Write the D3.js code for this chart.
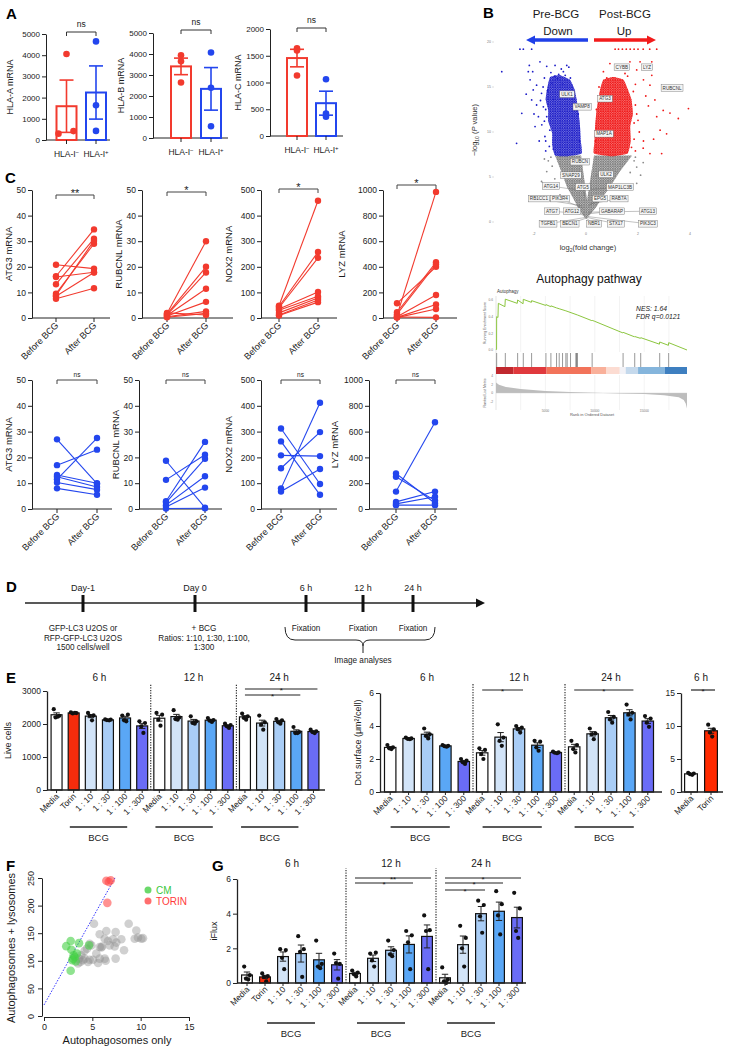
<!DOCTYPE html>
<html><head><meta charset="utf-8">
<script src="https://cdn.jsdelivr.net/npm/d3@7"></script>
<style>body{margin:0;background:#fff}svg{display:block}</style>
</head><body><svg id="fig" width="734" height="1053"></svg>
<script>
// ================= DATA =================
// Panel A
const hlaGroupBase = "HLA-I";
const hlaGroupSup = ["\u2212", "+"];
const hlaGenes = ["HLA-A mRNA", "HLA-B mRNA", "HLA-C mRNA"];
const hlaNeg = [[4060, 300, 420], [3940, 3650, 2640], [1640, 1600, 1130]];
const hlaPos = [[4650, 1640, 430], [4070, 2390, 560], [1060, 420, 360]];
const hlaMax = [5000, 5000, 2000];
const hlaStep = [1000, 1000, 500];
const hlaSig = ["ns", "ns", "ns"];

// Panel B volcano (log2 fold change, -log10 P)
const volcanoDownArea = [[-1.38,16.1],[-1.0,16.3],[-0.62,15.8],[-0.45,14.8],[-0.36,13.6],[-0.28,12.0],[-0.23,10.6],[-0.2,9.0],[-0.17,7.6],[-0.7,7.3],[-1.19,7.4],[-1.3,8.6],[-1.3,9.9],[-1.45,11.2],[-1.45,12.4],[-1.55,13.6],[-1.5,14.7]];
const volcanoUpArea = [[0.31,7.6],[0.33,9.0],[0.35,10.6],[0.4,12.2],[0.47,13.6],[0.55,14.8],[0.67,15.8],[1.05,16.1],[1.44,15.8],[1.6,14.8],[1.75,13.6],[1.8,12.0],[1.7,10.6],[1.72,9.0],[1.6,7.6],[1.0,7.3]];
const volcanoNSArea = [[-1.19,7.4],[-0.95,5.6],[-0.73,3.9],[-0.5,2.7],[-0.31,1.6],[0,0.3],[0.38,1.6],[0.62,2.7],[0.92,3.9],[1.3,5.6],[1.77,7.4],[0.31,7.4],[0.04,2.4],[-0.19,7.4]];
const volcanoDownPts = [[-3.24,16.7],[-2.67,8.74],[-2.47,12.07],[-2.22,16.7],[-2.09,13.56],[-2.03,14.67],[-1.9,15.2],[-1.77,17.8],[-1.71,14.3],[-1.64,12.8],[-1.51,11.7],[-1.39,10.2],[-1.32,15.4],[-2.15,15.8],[-2.18,17.4],[-2.05,16.7],[-1.51,17.3],[-1.19,17.4],[-0.74,17.4],[-0.66,17.2],[-0.87,16.7],[-1.05,16.4],[-1.26,13.6],[-1.48,14.6],[-1.58,9.5],[-1.41,8.4],[-1.26,8.1],[-1.83,11.7],[-1.96,10.6],[-2.54,19.2],[-2.41,19.2],[-2.09,19.2],[-1.6,16.0],[-1.9,13.0],[-1.7,10.8],[-1.55,12.5],[-1.1,15.9],[-0.9,15.3],[-0.6,16.0],[-2.3,14.2],[-1.8,9.0],[-1.55,7.9],[-2.0,12.0],[-1.35,16.6],[-0.95,17.0],[-1.65,15.0],[-1.75,13.5],[-1.6,11.2],[-1.55,9.0],[-1.2,16.2],[-0.8,16.3],[-0.45,14.5],[-0.3,12.0],[-0.25,9.0]];
const volcanoUpPts = [[0.67,16.7],[0.92,17.6],[1.69,17.8],[2.08,17.8],[2.53,17.8],[2.53,16.3],[1.95,16.9],[2.21,15.8],[2.46,15.2],[2.65,13.56],[2.97,12.4],[3.23,12.1],[3.94,12.6],[3.55,11.5],[2.85,10.2],[2.46,7.6],[2.91,7.6],[2.21,9.0],[2.0,11.3],[2.72,11.7],[2.4,12.9],[1.82,14.5],[1.5,16.5],[1.2,17.0],[0.8,16.0],[1.12,19.2],[1.25,19.2],[1.4,19.2],[1.55,19.2],[1.7,19.2],[1.85,19.2],[2.0,19.2],[2.2,19.2],[2.45,19.2],[2.72,19.2],[1.9,13.0],[2.2,8.2],[2.05,10.0],[1.9,7.9],[2.3,14.0],[1.85,9.2],[3.1,9.8],[2.6,9.2],[1.6,16.2],[1.9,15.3],[1.95,12.0],[1.85,11.0],[0.5,15.0],[0.4,12.5],[0.36,9.0],[1.75,8.3]];
const volcanoNSPts = [[-1.51,5.6],[-1.71,4.5],[-1.3,6.2],[1.95,6.1],[1.54,4.0],[1.95,4.3],[1.7,5.5],[1.85,6.8],[-1.45,6.8],[-1.6,7.0],[2.1,5.2],[1.3,2.8],[-1.0,3.0],[-1.2,4.8],[2.2,6.6],[-1.35,7.2],[1.9,7.2],[1.2,5.6],[-0.95,5.3]];
const volcanoGenes = ["CYBB","LYZ","RUBCNL","ATG3","ULK1","VAMP8","MAP1A","RUBCN","SNAP29","ULK2","ATG14","ATG5","MAP1LC3B","RB1CC1","PIK3R4","EPG5","RAB7A","ATG7","ATG12","GABARAP","ATG13","TGFB1","BECN1","NBR1","STX17","PIK3C3"];
const volcanoGeneFC = [1.3,2.2,2.9,0.75,-0.7,-0.2,0.7,0.0,-0.25,0.35,-0.2,-0.05,0.2,-0.15,-0.1,0.1,0.15,-0.08,-0.05,0.08,0.12,-0.04,-0.02,0.02,0.05,0.07];
const volcanoGeneP = [17.2,17.2,15.0,13.7,14.2,12.8,9.8,6.8,5.5,5.2,3.5,2.8,3.6,1.8,1.5,1.8,2.0,0.9,0.7,0.9,1.1,0.5,0.4,0.4,0.5,0.6];
const volcanoLabelFC = [1.38,2.35,3.31,0.73,-0.73,-0.15,0.69,-0.23,-0.58,0.77,-1.35,-0.12,1.31,-1.81,-1.0,0.54,1.27,-1.31,-0.54,1.0,2.38,-1.46,-0.62,0.31,1.15,2.38];
const volcanoLabelP = [17.2,17.2,14.9,13.7,14.2,12.8,9.8,6.7,5.2,5.3,4.0,3.9,3.9,2.6,2.6,2.6,2.6,1.2,1.2,1.2,1.2,-0.2,-0.2,-0.2,-0.2,-0.2];

// Panel B GSEA
const gseaRank = [0,60,67,200,236,900,943,2150,2189,2740,2761,3580,3603,5030,5051,5540,5556,6128,6397,7071,8249,9700,9731,10000,12840,12862,14020,14040,14620,14646,16540,16566,17450,17475,19330];
const gseaES = [0,0.01,0.40,0.39,0.56,0.52,0.61,0.56,0.60,0.555,0.608,0.572,0.592,0.535,0.545,0.52,0.53,0.505,0.495,0.47,0.42,0.352,0.356,0.344,0.205,0.212,0.158,0.162,0.14,0.148,0.07,0.096,0.056,0.088,0.0];
const gseaHits = [67,943,2189,2761,3603,5051,5556,6128,6397,6734,7071,7205,7542,8081,8148,8249,9731,12862,14040,14646,16566,17475];
const gseaMetricRank = [0,300,1000,2500,5000,7500,10000,12500,15000,17000,18500,19000,19200,19330];
const gseaMetric = [2.4,1.9,1.4,0.9,0.45,0.25,0.05,-0.1,-0.25,-0.5,-1.0,-1.6,-2.4,-3.6];
const gseaBandStart = [0,1751,5118,9663,11178,12525,13131,14377,17071];
const gseaBandEnd = [1751,5118,9663,11178,12525,13131,14377,17071,19330];
const gseaBandColor = ["#c0282e","#e0393d","#f2735a","#f9b09a","#fcdcd2","#f2f2f7","#c5d9ec","#85b5dc","#3e7fc0"];

// Panel C
const cGenes = ["ATG3 mRNA","RUBCNL mRNA","NOX2 mRNA","LYZ mRNA"];
const cMax = [50, 50, 500, 1000];
const cStep = [10, 10, 100, 200];
const cTimes = ["Before BCG", "After BCG"];
const atg3BeforeUp = [20.8,16.3,16.0,13.2,9.5,8.8,8.5,7.5];
const atg3AfterUp = [19.3,34.6,17.9,31.0,29.0,30.2,17.8,11.6];
const rubcnlBeforeUp = [1.8,1.5,1.2,1.0,0.8,0.5,0.3,2.0];
const rubcnlAfterUp = [30.0,20.0,17.8,11.4,6.3,2.6,1.8,1.2];
const nox2BeforeUp = [48,45,40,35,30,20,12,10];
const nox2AfterUp = [458,258,235,102,85,78,70,62];
const lyzBeforeUp = [20,115,45,30,10,5,3,8];
const lyzAfterUp = [985,400,435,420,180,105,70,5];
const cSigUp = ["**","*","*","*"];
const atg3BeforeNs = [27,17,11.5,13.2,12.5,10.3,8];
const atg3AfterNs = [9.8,23,27.5,10,8.5,7.5,5.5];
const rubcnlBeforeNs = [18.7,11.3,3.0,2.5,1.5,0.8,0.2];
const rubcnlAfterNs = [0.5,21,26,19.5,12.7,8.3,0.3];
const nox2BeforeNs = [312,262,208,158,80,68];
const nox2AfterNs = [97,55,205,298,412,155];
const lyzBeforeNs = [135,275,250,55,40,30];
const lyzAfterNs = [672,45,65,135,95,30];
const cSigNs = ["ns","ns","ns","ns"];

// Panel D
const timelineEvents = ["Day-1","Day 0","6 h","12 h","24 h"];
const timelineNotes = [["GFP-LC3 U2OS or","RFP-GFP-LC3 U2OS","1500 cells/well"],["+ BCG","Ratios: 1:10, 1:30, 1:100,","1:300"],["Fixation"],["Fixation"],["Fixation"]];
const timelineOutput = "Image analyses";

// Panel E / G categories
const timeGroups = ["6 h","12 h","24 h"];
const conds16 = ["Media","Torin","1 : 10","1 : 30","1 : 100","1 : 300","Media","1 : 10","1 : 30","1 : 100","1 : 300","Media","1 : 10","1 : 30","1 : 100","1 : 300"];
const conds15 = ["Media","1 : 10","1 : 30","1 : 100","1 : 300","Media","1 : 10","1 : 30","1 : 100","1 : 300","Media","1 : 10","1 : 30","1 : 100","1 : 300"];
const condsTorin = ["Media","Torin"];
const liveCells = [[2450,2250,2200,2220],[2350,2330,2320,2340],[2335,2260,2250,2110],[2140,2130,2120,2110],[2254,2284,2112,2081],[2080,2030,1930,1730],
  [2335,2284,2132,1950],[2420,2200,2150,2130],[2233,2081,2030,2010],[2180,2120,2100,2060],[2010,1970,1930,1880],
  [2315,2233,2183,2132],[2254,2050,1980,1827],[2152,2112,2050,2010],[1909,1756,1726,1726],[1827,1777,1756,1726]];
const dotSurface = [[2.85,2.7,2.65,2.6],[3.3,3.25,3.22,3.2],[3.85,3.5,3.4,3.25],[2.85,2.8,2.78,2.75],[2.0,1.9,1.8,1.7],
  [2.65,2.55,2.3,2.0],[4.1,3.3,3.1,2.8],[4.0,3.9,3.8,3.6],[3.1,3.05,2.7,2.5],[2.45,2.4,2.38,2.35],
  [3.1,2.85,2.6,2.4],[3.85,3.55,3.5,3.2],[4.85,4.55,4.4,4.2],[5.3,4.8,4.7,4.4],[4.6,4.45,4.2,3.95]];
const dotSurfaceTorin = [[2.9,2.8,2.7,2.6],[10.2,9.5,9.0,8.4]];
const iFlux = [[0.95,0.45,0.25,0.2],[0.55,0.4,0.35,0.1],[1.95,1.9,1.45,0.8],[2.7,1.95,1.8,0.35],[2.45,1.1,0.95,0.85],[1.7,1.1,1.15,0.25],
  [0.72,0.6,0.5,0.38],[1.7,1.75,1.3,0.95],[2.45,1.9,1.65,1.55],[3.0,2.75,2.35,0.8],[3.9,3.05,3.0,0.8],
  [0.9,0.2,0.1,0.0],[3.3,2.6,2.0,0.95],[4.75,4.5,3.85,2.9],[5.3,4.55,3.9,2.8],[5.2,4.3,3.0,2.6]];
const liveSig = [[11,15,"*"],[11,14,"*"]];
const dotSig = [[5,7,"*"],[10,13,"*"]];
const torinSig = [[0,1,"*"]];
const fluxSig = [[6,10,"**"],[6,9,"*"],[11,15,"*"],[11,14,"*"],[11,13,"*"]];

// Panel F
const fCM = [[2.3,126.5],[2.76,136],[2.83,120],[3.17,107],[3.28,99],[3.0,104],[2.76,82],[3.62,132],[3.41,113],[4.66,128],[3.07,110],[2.93,101]];
const fTorin = [[6.55,205],[6.45,245],[6.7,243],[6.9,246]];
const fOther = [[5.17,167],[8.76,167],[5.76,148],[6.45,154],[7.41,152],[6.28,140],[6.62,136],[7.14,139],[8.0,139],[9.55,155],[9.72,142],[10.07,140],[10.24,141],[9.38,140],[5.76,125],[5.93,124],[6.79,128],[7.31,126],[7.48,133],[8.28,119],[4.2,118],[4.45,122],[4.9,128],[5.41,113],[3.86,110],[3.62,104],[4.03,101],[4.55,98],[5.07,102],[5.76,104],[6.28,104],[5.59,96],[3.52,95],[7.41,104],[6.38,100],[3.76,98],[4.72,102],[4.72,131],[6.0,126],[4.2,104]];
const fLineX = [0, 7.4];
const fLineY = [20, 252];
const fLegend = ["CM", "TORIN"];

// ================= DRAWING =================
const FONT = '"Liberation Sans", Arial, Helvetica, sans-serif';
const RED = "#f23a2e", BLUE = "#2346ee";
const condColor = {"Media":"#ffffff","Torin":"#f52c0c","1 : 10":"#d2e4f8","1 : 30":"#a9cdf6","1 : 100":"#5aa7f6","1 : 300":"#6a6cf6"};
const fmt = d3.format("d");
const svg = d3.select("#fig");
svg.append("rect").attr("width",734).attr("height",1053).attr("fill","#fff");
const defs = svg.append("defs");
[["pBlue", "#1c1cc8"], ["pRed", "#f01818"], ["pGrey", "#7d7d7d"]].forEach(([id, col]) => {
  const p = defs.append("pattern").attr("id", id).attr("width", 2.4).attr("height", 2.4).attr("patternUnits", "userSpaceOnUse");
  p.append("circle").attr("cx", 0.8).attr("cy", 0.8).attr("r", 0.95).attr("fill", col);
  p.append("circle").attr("cx", 2.0).attr("cy", 2.0).attr("r", 0.75).attr("fill", col);
});

function T(g, x, y, s, o = {}) {
  const t = g.append("text").attr("x", x).attr("y", y).text(s)
    .attr("font-size", o.size || 9).attr("text-anchor", o.anchor || "middle")
    .attr("fill", o.fill || "#1a1a1a").style("font-family", FONT);
  if (o.weight) t.attr("font-weight", o.weight);
  if (o.italic) t.attr("font-style", "italic");
  if (o.rot) t.attr("transform", `rotate(${o.rot},${x},${y})`);
  return t;
}
function L(g, x1, y1, x2, y2, o = {}) {
  return g.append("line").attr("x1",x1).attr("y1",y1).attr("x2",x2).attr("y2",y2)
    .attr("stroke", o.stroke || "#222").attr("stroke-width", o.w || 1)
    .attr("stroke-dasharray", o.dash || null);
}
function styleAxis(sel, size, col) {
  col = col || "#222";
  sel.selectAll("text").style("font-family", FONT).attr("font-size", size).attr("fill", col);
  sel.selectAll("line").attr("stroke", col);
  sel.select(".domain").attr("stroke", col);
}
const letter = (x, y, s) => T(svg, x, y, s, {size: 15, weight: "bold", anchor: "start", fill: "#000"});
letter(6, 19, "A"); letter(483, 18, "B"); letter(5, 183, "C"); letter(6, 592, "D");
letter(6, 683, "E"); letter(6, 871, "F"); letter(212, 871, "G");

// ---------- Panel A ----------
const hlaLayout = [
  {ax: 46, xEnd: 110, c: [66.5, 96], top: 34, bot: 140, jit: [[0,-8,7],[0,0,0]], lx: 13, br: 32},
  {ax: 153, xEnd: 228, c: [181, 211], top: 33, bot: 138, jit: [[0,0,0],[0,0,0]], lx: 124, br: 30},
  {ax: 270, xEnd: 343, c: [297, 326], top: 29, bot: 136, jit: [[0,0,0],[0,0,0]], lx: 241, br: 28}
];
hlaLayout.forEach((c, k) => {
  const g = svg.append("g");
  const y = d3.scaleLinear().domain([0, hlaMax[k]]).range([c.bot, c.top]);
  g.append("g").attr("transform", `translate(${c.ax},0)`)
    .call(d3.axisLeft(y).tickValues(d3.range(0, hlaMax[k] + 1, hlaStep[k])).tickFormat(fmt).tickSize(4).tickPadding(2).tickSizeOuter(0))
    .call(s => styleAxis(s, 8));
  L(g, c.ax, c.bot, c.xEnd, c.bot, {w: 1});
  [hlaNeg[k], hlaPos[k]].forEach((vals, j) => {
    const cx = c.c[j], col = j ? BLUE : RED;
    const m = d3.mean(vals), se = d3.deviation(vals) / Math.sqrt(vals.length);
    g.append("rect").attr("x", cx - 10).attr("y", y(m)).attr("width", 20).attr("height", c.bot - y(m))
      .attr("fill", "#fff").attr("stroke", col).attr("stroke-width", 2);
    L(g, cx, y(m - se), cx, y(m + se), {stroke: col, w: 1.6});
    L(g, cx - 7, y(m + se), cx + 7, y(m + se), {stroke: col, w: 1.6});
    L(g, cx - 7, y(m - se), cx + 7, y(m - se), {stroke: col, w: 1.6});
    vals.forEach((v, i) => g.append("circle").attr("cx", cx + c.jit[j][i]).attr("cy", y(v)).attr("r", 3.3).attr("fill", col));
    L(g, cx, c.bot, cx, c.bot + 4);
    const t = T(g, cx, c.bot + 17, "", {size: 8.5});
    t.append("tspan").text(hlaGroupBase);
    t.append("tspan").text(hlaGroupSup[j]).attr("font-size", 6).attr("dy", -3.5);
  });
  g.append("path").attr("d", `M${c.c[0]},${c.br + 4}V${c.br}H${c.c[1]}V${c.br + 4}`).attr("fill", "none").attr("stroke", "#333");
  T(g, (c.c[0] + c.c[1]) / 2, c.br - 5, hlaSig[k], {size: 8.5});
  T(g, c.lx, (c.top + c.bot) / 2, hlaGenes[k], {size: 9, rot: -90});
});

// ---------- Panel B volcano ----------
(function () {
  const g = svg.append("g");
  const vx = d3.scaleLinear().domain([-2, 4]).range([534, 690]);
  const vy = d3.scaleLinear().domain([0, 20]).range([222, 42]);
  T(g, 556, 18, "Pre-BCG", {size: 11.5});
  T(g, 558, 35, "Down", {size: 11.5});
  T(g, 625, 18, "Post-BCG", {size: 11.5});
  T(g, 624, 35, "Up", {size: 11.5});
  g.append("path").attr("d", "M526,40 L535,35.5 L535,38.3 L588,38.3 L588,41.7 L535,41.7 L535,44.5 Z").attr("fill", "#1f3fe8");
  g.append("path").attr("d", "M656,40 L647,35.5 L647,38.3 L594,38.3 L594,41.7 L647,41.7 L647,44.5 Z").attr("fill", "#f21b1b");
  const poly = d3.line().x(d => vx(d[0])).y(d => vy(d[1])).curve(d3.curveCardinalClosed.tension(0.6));
  const polyNS = d3.line().x(d => vx(d[0])).y(d => vy(d[1])).curve(d3.curveLinearClosed);
  g.append("path").attr("d", polyNS(volcanoNSArea)).attr("fill", "#8c8c8c").attr("opacity", 0.45);
  g.append("path").attr("d", polyNS(volcanoNSArea)).attr("fill", "url(#pGrey)");
  g.append("path").attr("d", poly(volcanoDownArea)).attr("fill", "#1c1cc8").attr("opacity", 0.55);
  g.append("path").attr("d", poly(volcanoDownArea)).attr("fill", "url(#pBlue)");
  g.append("path").attr("d", poly(volcanoUpArea)).attr("fill", "#f01818").attr("opacity", 0.55);
  g.append("path").attr("d", poly(volcanoUpArea)).attr("fill", "url(#pRed)");
  const pts = (arr, col) => g.selectAll(null).data(arr).enter().append("circle")
    .attr("cx", d => vx(d[0])).attr("cy", d => vy(d[1])).attr("r", 0.9).attr("fill", col);
  pts(volcanoNSPts, "#8c8c8c"); pts(volcanoDownPts, "#1c1cc8"); pts(volcanoUpPts, "#f01818");
  [-2, 0, 2, 4].forEach(v => T(g, vx(v), 235, v, {size: 3.5, fill: "#777"}));
  [0, 5, 10, 15, 20].forEach(v => { T(g, 491, vy(v) + 1.2, v, {size: 3.5, fill: "#777", anchor: "end"}); L(g, 492, vy(v), 494, vy(v), {stroke: "#aaa", w: 0.4}); });
  const xl = T(g, 588, 250, "", {size: 7.5, fill: "#333"});
  xl.append("tspan").text("log");
  xl.append("tspan").text("2").attr("font-size", 5).attr("dy", 2);
  xl.append("tspan").text("(fold change)").attr("dy", -2);
  const yl = T(g, 477, 130, "", {size: 7.5, fill: "#333", rot: -90});
  yl.append("tspan").text("\u2212log");
  yl.append("tspan").text("10").attr("font-size", 5).attr("dy", 2);
  yl.append("tspan").text(" (").attr("dy", -2);
  yl.append("tspan").text("P").attr("font-style", "italic");
  yl.append("tspan").text(" value)");
  volcanoGenes.forEach((gene, i) => {
    const lx = vx(volcanoLabelFC[i]), ly = vy(volcanoLabelP[i]);
    const px = vx(volcanoGeneFC[i]), py = vy(volcanoGeneP[i]);
    if (Math.hypot(lx - px, ly - py) > 6) L(g, lx, ly, px, py, {stroke: "#666", w: 0.4});
  });
  volcanoGenes.forEach((gene, i) => {
    const lx = vx(volcanoLabelFC[i]), ly = vy(volcanoLabelP[i]);
    const t = T(g, lx, ly + 1.6, gene, {size: 4.6, fill: "#333"});
    const w = t.node().getComputedTextLength() + 3;
    g.insert("rect", () => t.node()).attr("x", lx - w / 2).attr("y", ly - 3.3).attr("width", w).attr("height", 6.6)
      .attr("fill", "#f4f4f4").attr("stroke", "#666").attr("stroke-width", 0.4);
  });
})();

// ---------- Panel B GSEA ----------
(function () {
  const g = svg.append("g");
  const x = d3.scaleLinear().domain([0, 19330]).range([496, 687]);
  const yES = d3.scaleLinear().domain([0, 0.6]).range([350, 300]);
  const yM = d3.scaleLinear().domain([-4, 4]).range([410.3, 375.7]);
  T(g, 589, 283, "Autophagy pathway", {size: 12, fill: "#111"});
  T(g, 497, 293, "Autophagy", {size: 4.5, anchor: "start", fill: "#333"});
  [2500, 5000, 7500, 10000, 12500, 15000, 17500].forEach(r => {
    L(g, x(r), 296, x(r), 352, {stroke: "#e6e6e6", w: 0.5});
    L(g, x(r), 375, x(r), 410, {stroke: "#e6e6e6", w: 0.5});
  });
  [0, 0.2, 0.4, 0.6].forEach(v => T(g, 493, yES(v) + 1.2, v.toFixed(1), {size: 3.3, fill: "#777", anchor: "end"}));
  [4, 2, 0, -2].forEach(v => T(g, 493, yM(v) + 1.2, v, {size: 3.3, fill: "#777", anchor: "end"}));
  [5000, 10000, 15000].forEach(v => T(g, x(v), 411.5, v, {size: 3.3, fill: "#777"}));
  T(g, 486, 323, "Running Enrichment Score", {size: 3.5, fill: "#555", rot: -90});
  T(g, 486, 393, "Ranked List Metric", {size: 3.5, fill: "#555", rot: -90});
  T(g, 592, 416, "Rank in Ordered Dataset", {size: 4, fill: "#555"});
  L(g, 496, 296, 496, 410, {stroke: "#bbb", w: 0.4});
  g.append("path").datum(gseaRank.map((r, i) => [r, gseaES[i]]))
    .attr("d", d3.line().x(d => x(d[0])).y(d => yES(d[1])))
    .attr("fill", "none").attr("stroke", "#8cc63f").attr("stroke-width", 1);
  gseaHits.forEach(r => L(g, x(r), 353, x(r), 367, {stroke: "#333", w: 0.5}));
  gseaBandStart.forEach((s, i) => g.append("rect").attr("x", x(s)).attr("y", 367).attr("width", x(gseaBandEnd[i]) - x(s)).attr("height", 7).attr("fill", gseaBandColor[i]));
  g.append("path").datum(gseaMetricRank.map((r, i) => [r, gseaMetric[i]]))
    .attr("d", d3.area().x(d => x(d[0])).y0(yM(0)).y1(d => yM(d[1])))
    .attr("fill", "#bdbdbd");
  L(g, 496, yM(0), 687, yM(0), {stroke: "#ccc", w: 0.4});
  T(g, 636, 311, "NES: 1.64", {size: 6.8, italic: true, anchor: "start", fill: "#222"});
  T(g, 636, 319, "FDR q=0.0121", {size: 6.8, italic: true, anchor: "start", fill: "#222"});
})();

// ---------- Panel C ----------
const cRows = [
  {color: RED, sig: cSigUp, before: [atg3BeforeUp, rubcnlBeforeUp, nox2BeforeUp, lyzBeforeUp], after: [atg3AfterUp, rubcnlAfterUp, nox2AfterUp, lyzAfterUp],
   top: 190, bot: 318, ax: [32, 142, 261, 383], xEnd: [110, 233, 337, 457], bx: [56, 167, 279, 397], afx: [94, 206, 318, 436], lx: [12, 122, 232, 345], br: [195, 192, 189, 185], sigSize: 11},
  {color: BLUE, sig: cSigNs, before: [atg3BeforeNs, rubcnlBeforeNs, nox2BeforeNs, lyzBeforeNs], after: [atg3AfterNs, rubcnlAfterNs, nox2AfterNs, lyzAfterNs],
   top: 380, bot: 509, ax: [32, 139, 261, 369], xEnd: [112, 222, 337, 457], bx: [57, 166, 281, 396], afx: [97, 205, 320, 435], lx: [12, 119, 232, 338], br: [380, 380, 380, 380], sigSize: 6.5}
];
cRows.forEach(row => {
  cGenes.forEach((gene, k) => {
    const g = svg.append("g");
    const y = d3.scaleLinear().domain([0, cMax[k]]).range([row.bot, row.top]);
    g.append("g").attr("transform", `translate(${row.ax[k]},0)`)
      .call(d3.axisLeft(y).tickValues(d3.range(0, cMax[k] + 1, cStep[k])).tickFormat(fmt).tickSize(4).tickPadding(2).tickSizeOuter(0))
      .call(s => styleAxis(s, 8.5));
    L(g, row.ax[k], row.bot, row.xEnd[k], row.bot, {w: 1});
    [row.bx[k], row.afx[k]].forEach((cx, j) => {
      L(g, cx, row.bot, cx, row.bot + 4);
      T(g, cx + 3, row.bot + 8, cTimes[j], {size: 9, anchor: "end", rot: -45});
    });
    const b = row.before[k], a = row.after[k];
    b.forEach((v, i) => L(g, row.bx[k], y(v), row.afx[k], y(a[i]), {stroke: row.color, w: 1.1}));
    b.forEach(v => g.append("circle").attr("cx", row.bx[k]).attr("cy", y(v)).attr("r", 3.2).attr("fill", row.color));
    a.forEach(v => g.append("circle").attr("cx", row.afx[k]).attr("cy", y(v)).attr("r", 3.2).attr("fill", row.color));
    const br = row.br[k];
    g.append("path").attr("d", `M${row.bx[k]},${br + 4}V${br}H${row.afx[k]}V${br + 4}`).attr("fill", "none").attr("stroke", "#444");
    T(g, (row.bx[k] + row.afx[k]) / 2, br - (row.sigSize > 8 ? -2 : 3), row.sig[k], {size: row.sigSize});
    T(g, row.lx[k], (row.top + row.bot) / 2, gene, {size: 9.5, rot: -90});
  });
});

// ---------- Panel D ----------
(function () {
  const g = svg.append("g");
  const tx = [83, 195, 306, 363, 413];
  const nx = [83, 204, 306, 363, 413];
  L(g, 25, 603, 478, 603, {w: 1.3});
  g.append("path").attr("d", "M476,598.5 L485,603 L476,607.5 Z").attr("fill", "#111");
  timelineEvents.forEach((ev, i) => {
    L(g, tx[i], 595, tx[i], 612, {w: 3, stroke: "#111"});
    T(g, tx[i], 591, ev, {size: 9});
    timelineNotes[i].forEach((s, j) => T(g, nx[i], 631 + j * 9.5, s, {size: 8.2}));
  });
  g.append("path").attr("d", "M285,627 Q285,640 295,640 L356,640 Q363,640 363,646 Q363,640 370,640 L425,640 Q435,640 435,627")
    .attr("fill", "none").attr("stroke", "#222").attr("stroke-width", 1);
  L(g, 363, 646, 363, 653, {w: 1});
  T(g, 363, 663, timelineOutput, {size: 8.2});
})();

// ---------- Bar panels (E, G) ----------
function barPanel(p) {
  const g = svg.append("g");
  const n = p.labels.length;
  const x = d3.scaleBand().domain(d3.range(n)).range([p.bandL, p.bandR]);
  const cx = i => x(i) + x.bandwidth() / 2;
  const y = d3.scaleLinear().domain([0, p.max]).range([p.y0, p.y1]);
  p.seps.forEach(i => L(g, x(i), p.y0, x(i), p.sepTop, {dash: "1.3,1.3", w: 1.1}));
  const bw = x.bandwidth() * p.bwFrac;
  const jit = [-2.8, 2.8, -1, 1.2];
  p.labels.forEach((lab, i) => {
    const vals = p.dots[i];
    const m = d3.mean(vals), se = d3.deviation(vals) / Math.sqrt(vals.length);
    const c = cx(i);
    g.append("rect").attr("x", c - bw / 2).attr("y", y(m)).attr("width", bw).attr("height", p.y0 - y(m))
      .attr("fill", p.colors ? p.colors[i] : condColor[lab]).attr("stroke", "#111").attr("stroke-width", 1.2);
    L(g, c, y(m - se), c, y(m + se), {w: 1});
    L(g, c - 3.2, y(m + se), c + 3.2, y(m + se), {w: 1});
    L(g, c - 3.2, y(m - se), c + 3.2, y(m - se), {w: 1});
    vals.forEach((v, j) => g.append("circle").attr("cx", c + jit[j]).attr("cy", y(v)).attr("r", 2.1).attr("fill", "#111"));
    L(g, c, p.y0, c, p.y0 + 3, {w: 1});
    T(g, c + 3, p.y0 + 7, lab, {size: 8.5, anchor: "end", rot: -45});
  });
  g.append("g").attr("transform", `translate(${p.axisX},0)`)
    .call(d3.axisLeft(y).tickValues(p.ticks).tickFormat(fmt).tickSize(4).tickPadding(2).tickSizeOuter(0))
    .call(s => styleAxis(s, 8.5));
  L(g, p.axisX, p.y0, p.xEnd, p.y0, {w: 1.3});
  g.select(".domain").attr("stroke-width", 1.3);
  p.heads.forEach((hd, k) => T(g, (cx(hd[0]) + cx(hd[1])) / 2, p.headY, p.headLabels[k], {size: 10}));
  (p.bcg || []).forEach(b => {
    const x1 = cx(b[0]) + p.bcgOff[0], x2 = cx(b[1]) + p.bcgOff[1];
    L(g, x1, p.bcgY, x2, p.bcgY, {w: 1.3});
    T(g, (x1 + x2) / 2, p.bcgY + 14, "BCG", {size: 9.5});
  });
  p.sig.forEach((s, k) => {
    const yy = p.sigY[k];
    const x1 = cx(s[0]), x2 = cx(s[1]) + 4;
    L(g, x1, yy, x2, yy, {w: 1.2});
    T(g, (x1 + x2) / 2, yy + 3.5, s[2], {size: 8});
  });
  if (p.ylabel) T(g, p.lx, (p.y0 + p.y1) / 2, p.ylabel, {size: 9, rot: -90});
}
barPanel({labels: conds16, dots: liveCells, axisX: 47, xEnd: 325, bandL: 48, bandR: 322, y0: 790, y1: 691, max: 3000, ticks: [0, 1000, 2000, 3000],
  seps: [6, 11], sepTop: 684, bwFrac: 0.64, heads: [[0, 5], [6, 10], [11, 15]], headLabels: timeGroups, headY: 681,
  bcg: [[2, 5], [7, 10], [12, 15]], bcgOff: [-21, -15], bcgY: 827, sig: liveSig, sigY: [689, 695], ylabel: "Live cells", lx: 11});
barPanel({labels: conds15, dots: dotSurface, axisX: 380, xEnd: 662, bandL: 381, bandR: 657, y0: 792, y1: 693, max: 6, ticks: [0, 2, 4, 6],
  seps: [5, 10], sepTop: 684, bwFrac: 0.62, heads: [[0, 4], [5, 9], [10, 14]], headLabels: timeGroups, headY: 681,
  bcg: [[1, 4], [6, 9], [11, 14]], bcgOff: [-18, -14], bcgY: 827, sig: dotSig, sigY: [690, 690], ylabel: "Dot surface (\u03bcm\u00b2/cell)", lx: 361});
barPanel({labels: condsTorin, dots: dotSurfaceTorin, colors: ["#ffffff", "#ff2a00"], axisX: 681, xEnd: 723, bandL: 681, bandR: 721, y0: 792, y1: 693, max: 15, ticks: [0, 5, 10, 15],
  seps: [], sepTop: 684, bwFrac: 0.64, heads: [[0, 1]], headLabels: ["6 h"], headY: 681,
  bcg: [], bcgOff: [0, 0], bcgY: 0, sig: torinSig, sigY: [690], ylabel: "", lx: 0});
barPanel({labels: conds16, dots: iFlux, axisX: 237, xEnd: 526, bandL: 238, bandR: 526, y0: 983, y1: 879, max: 6, ticks: [0, 2, 4, 6],
  seps: [6, 11], sepTop: 868, bwFrac: 0.6, heads: [[0, 5], [6, 10], [11, 15]], headLabels: timeGroups, headY: 867,
  bcg: [[2, 5], [7, 10], [12, 15]], bcgOff: [-16, -22], bcgY: 1023, sig: fluxSig, sigY: [878, 883, 878, 883, 890], ylabel: "iFlux", lx: 217});

// ---------- Panel F ----------
(function () {
  const g = svg.append("g");
  const x = d3.scaleLinear().domain([0, 15]).range([44, 189]);
  const y = d3.scaleLinear().domain([0, 250]).range([1016, 878]);
  const ya = g.append("g").attr("transform", "translate(42,0)")
    .call(d3.axisLeft(y).tickValues([0, 50, 100, 150, 200, 250]).tickFormat(fmt).tickSize(4).tickSizeOuter(0))
    .call(s => styleAxis(s, 9, "#222"));
  ya.selectAll(".tick text").attr("transform", "rotate(-90)").attr("x", 0).attr("y", -8).attr("dy", 0).attr("text-anchor", "middle");
  g.append("g").attr("transform", "translate(0,1017)")
    .call(d3.axisBottom(x).tickValues([0, 5, 10, 15]).tickFormat(fmt).tickSize(4).tickSizeOuter(0))
    .call(s => styleAxis(s, 9, "#222"));
  T(g, 117, 1044, "Autophagosomes only", {size: 11});
  T(g, 15, 948, "Autophagosomes + lysosomes", {size: 11, rot: -90});
  g.append("line").attr("x1", x(fLineX[0])).attr("y1", y(fLineY[0])).attr("x2", x(fLineX[1])).attr("y2", y(fLineY[1]))
    .attr("stroke", "#3333ff").attr("stroke-width", 1).attr("stroke-dasharray", "1.5,1.5");
  const dots = (arr, col, op) => g.selectAll(null).data(arr).enter().append("circle")
    .attr("cx", d => x(d[0])).attr("cy", d => y(d[1])).attr("r", 4.3).attr("fill", col).attr("opacity", op);
  dots(fOther, "#8f8f8f", 0.42);
  dots(fCM, "#46d046", 0.6);
  dots(fTorin, "#ff4a4a", 0.6);
  g.append("circle").attr("cx", 148).attr("cy", 890).attr("r", 3.5).attr("fill", "#46d046").attr("opacity", 0.8);
  g.append("circle").attr("cx", 148).attr("cy", 901).attr("r", 3.5).attr("fill", "#ff4a4a").attr("opacity", 0.8);
  T(g, 156, 894, fLegend[0], {size: 10, anchor: "start", fill: "#3cc83c"});
  T(g, 156, 905, fLegend[1], {size: 10, anchor: "start", fill: "#ff3a3a"});
})();
</script></body></html>
